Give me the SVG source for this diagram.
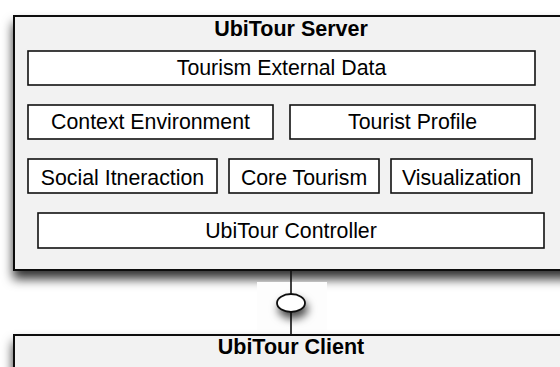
<svg xmlns="http://www.w3.org/2000/svg" width="560" height="367" viewBox="0 0 560 367">
<defs>
<filter id="sh" x="-10%" y="-20%" width="120%" height="160%">
<feDropShadow dx="0" dy="8" stdDeviation="5.5" flood-color="#000" flood-opacity="0.8"/>
</filter>
<filter id="sh2" x="-60%" y="-60%" width="220%" height="280%">
<feDropShadow dx="2" dy="6" stdDeviation="4" flood-color="#000" flood-opacity="0.7"/>
</filter>
<style>
.outer{fill:#f2f2f2;stroke:#111;stroke-width:2}
.inner{fill:#fff;stroke:#111;stroke-width:1.6}
.title{font-family:"Liberation Sans",Arial,sans-serif;font-weight:bold;font-size:21.5px;fill:#000;text-anchor:middle}
.lbl{font-family:"Liberation Sans",Arial,sans-serif;font-size:21.3px;fill:#000;text-anchor:middle}
</style>
</defs>
<rect width="560" height="367" fill="#fff"/>
<g id="server">
<rect class="outer" x="14" y="16" width="560" height="254" filter="url(#sh)"/>
<text class="title" x="291" y="36">UbiTour Server</text>
</g>
<g id="tourism-external-data">
<rect class="inner" x="28" y="51" width="507" height="34"/>
<text class="lbl" x="281.5" y="75">Tourism External Data</text>
</g>
<g id="context-environment">
<rect class="inner" x="28" y="105" width="245" height="34"/>
<text class="lbl" x="150.5" y="129">Context Environment</text>
</g>
<g id="tourist-profile">
<rect class="inner" x="290" y="105" width="245" height="34"/>
<text class="lbl" x="412.5" y="129">Tourist Profile</text>
</g>
<g id="social-itneraction">
<rect class="inner" x="28" y="159" width="189" height="34"/>
<text class="lbl" x="122.5" y="185">Social Itneraction</text>
</g>
<g id="core-tourism">
<rect class="inner" x="229" y="159" width="150" height="34"/>
<text class="lbl" x="304" y="185">Core Tourism</text>
</g>
<g id="visualization">
<rect class="inner" x="391" y="159" width="141" height="34"/>
<text class="lbl" x="461.5" y="185">Visualization</text>
</g>
<g id="ubitour-controller">
<rect class="inner" x="38" y="213" width="506" height="35"/>
<text class="lbl" x="291" y="238">UbiTour Controller</text>
</g>
<rect x="257" y="282" width="70" height="48" fill="#fdfdfd"/>
<g id="client">
<rect class="outer" x="14" y="335" width="560" height="60" filter="url(#sh)"/>
<text class="title" x="291" y="354">UbiTour Client</text>
</g>
<g id="connectors">
<line x1="291" y1="271" x2="291" y2="334" stroke="#111" stroke-width="1.6"/>
<ellipse cx="291" cy="303" rx="14" ry="9" fill="#fff" stroke="#111" stroke-width="1.8" filter="url(#sh2)"/>
</g>
</svg>
